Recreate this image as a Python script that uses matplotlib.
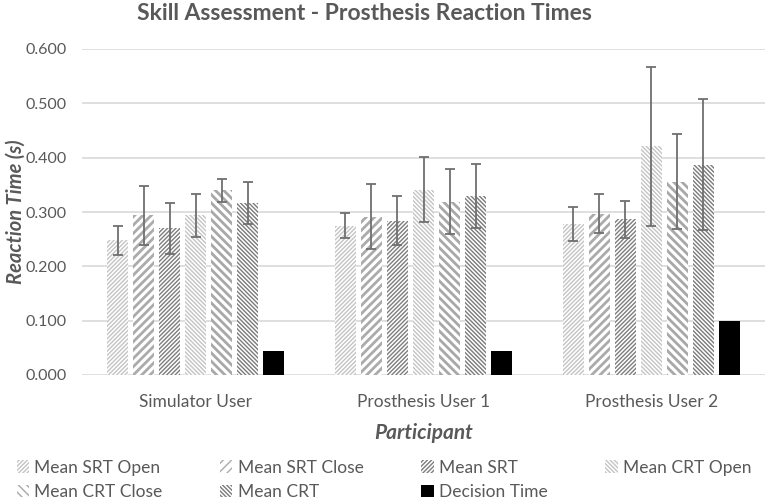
import matplotlib.pyplot as plt
import numpy as np

# Datos
participantes = ['Simulator User', 'Prosthesis User 1', 'Prosthesis User 2']
series = ['Mean SRT Open', 'Mean SRT Close', 'Mean SRT',
          'Mean CRT Open', 'Mean CRT Close', 'Mean CRT', 'Decision Time']

srt_open = [0.248, 0.275, 0.278]
srt_close = [0.294, 0.291, 0.297]
srt = [0.270, 0.284, 0.287]
crt_open = [0.294, 0.341, 0.421]
crt_close = [0.340, 0.319, 0.356]
crt = [0.316, 0.330, 0.387]
decision = [0.044, 0.045, 0.099]

err_srt_open = [0.027, 0.023, 0.032]
err_srt_close = [0.054, 0.060, 0.036]
err_srt = [0.047, 0.045, 0.034]
err_crt_open = [0.040, 0.060, 0.146]
err_crt_close = [0.021, 0.060, 0.088]
err_crt = [0.039, 0.059, 0.121]

valores = [srt_open, srt_close, srt, crt_open, crt_close, crt, decision]
errores = [err_srt_open, err_srt_close, err_srt, err_crt_open, err_crt_close, err_crt, None]

# Estilos (color de trama, trama, grosor de trama)
estilos = [
    ('#c4c4c4', '////////', 1.0),
    ('#ababab', '////', 2.0),
    ('#7d7d7d', '////////', 1.0),
    ('#c4c4c4', '\\' * 8, 1.0),
    ('#a8a8a8', '\\' * 4, 2.0),
    ('#7a7a7a', '\\' * 8, 1.0),
    ('black', None, 0),
]

plt.rcParams['font.family'] = ['Lato', 'DejaVu Sans']
gris = '#595959'

fig = plt.figure(figsize=(7.67, 5.03), dpi=100)
ax = fig.add_axes([82/767, 1 - 375/503, 683/767, 326/503])

x = np.arange(len(participantes))
paso = 0.8 / 7
ancho = 0.092

barras = []
for i, (vals, errs, (col, hatch, hlw)) in enumerate(zip(valores, errores, estilos)):
    pos = x - 0.4 + paso * (i + 0.5)
    with plt.rc_context({'hatch.linewidth': hlw if hlw else 1.0}):
        if hatch:
            b = ax.bar(pos, vals, ancho, color='white', edgecolor=col, hatch=hatch,
                       linewidth=0, label=series[i], zorder=2)
        else:
            b = ax.bar(pos, vals, ancho, color=col, edgecolor=col, linewidth=0,
                       label=series[i], zorder=2)
    if hatch and hasattr(b.patches[0], 'set_hatch_linewidth'):
        for p in b.patches:
            p.set_hatch_linewidth(hlw)
    if errs is not None:
        ax.errorbar(pos, vals, yerr=errs, fmt='none', ecolor='#6f6f6f',
                    elinewidth=1.3, capsize=3.5, capthick=1.3, zorder=3)
    barras.append(b)

ax.set_xlim(-0.5, 2.5)
ax.set_ylim(0, 0.6)
ax.set_yticks(np.arange(0, 0.61, 0.1))
ax.set_yticklabels([f'{v:.3f}' for v in np.arange(0, 0.61, 0.1)])
ax.set_xticks(x)
ax.set_xticklabels(participantes)
ax.tick_params(axis='both', length=0, labelcolor=gris)
ax.tick_params(axis='y', pad=11, labelsize=11.5)
ax.tick_params(axis='x', pad=14, labelsize=12.5)
ax.grid(axis='y', color='#d9d9d9', linewidth=1.2, zorder=0)
ax.set_axisbelow(True)
for s in ax.spines.values():
    s.set_visible(False)

ax.set_ylabel('Reaction Time (s)', fontsize=14.5, fontweight='bold', style='italic',
              color=gris)
ax.yaxis.set_label_coords(-56/683, 0.5)
ax.set_xlabel('Participant', fontsize=15, fontweight='bold', style='italic',
              color=gris, labelpad=9)
fig.text(364/767, 1 - 14/503, 'Skill Assessment - Prosthesis Reaction Times',
         ha='center', va='center', fontsize=16.5, fontweight='bold', color=gris)

# Leyenda ordenada por filas
orden = [0, 4, 1, 5, 2, 6, 3]
h = [barras[k] for k in orden]
l = [series[k] for k in orden]
leg = fig.legend(h, l, ncol=4, loc='lower left',
                 bbox_to_anchor=(8/767, -6/503, 752/767, 50/503), mode='expand',
                 frameon=False, fontsize=12.5, handlelength=0.7, handleheight=0.7,
                 handletextpad=0.3, labelspacing=0.5, borderaxespad=0.1)
for t in leg.get_texts():
    t.set_color(gris)

fig.savefig('out.png', dpi=100)
